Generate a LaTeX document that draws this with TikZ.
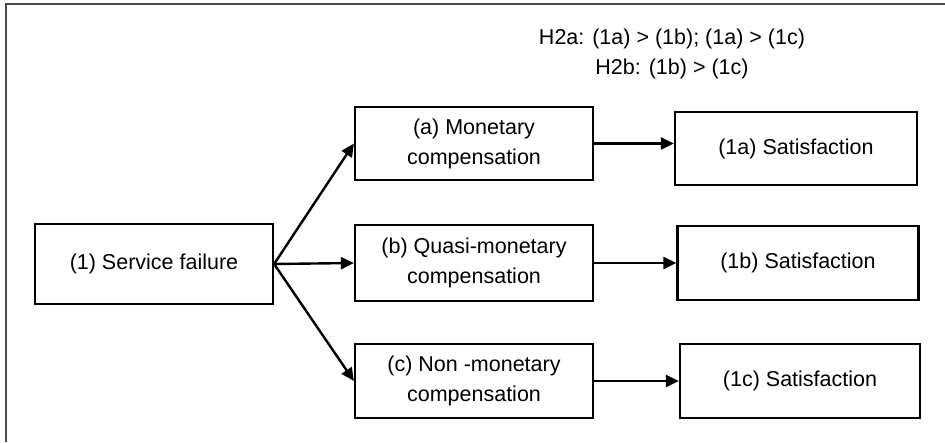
\documentclass[tikz,border=0pt]{standalone}
\usepackage{fontspec}
\setmainfont{Liberation Sans}
\usepackage{tikz}
\usetikzlibrary{arrows.meta}

\tikzset{
  stage/.style={draw, line width=2.2pt, align=center, inner sep=0pt,
    font=\fontsize{21.5}{30}\selectfont},
  link/.style={line width=2.4pt, -{Triangle[length=13pt, width=12pt]}},
}

\begin{document}
\begin{tikzpicture}[x=1pt, y=-1pt]

  \useasboundingbox (0,0) rectangle (945,442);
  \draw [line width=2.4pt, black!70] (6,442) -- (6,4) -- (945,4);

  % hypotheses
  \draw (672,54) node [name=hyp, align=center, font=\fontsize{21.5}{30}\selectfont]
    {H2a: (1a) > (1b); (1a) > (1c)\\H2b: (1b) > (1c)};

  % failure and the three kinds of compensation
  \draw (154,264) node [name=fail, stage, minimum width=238pt, minimum height=80pt]
    {(1) Service failure};
  \draw (474,143.5) node [name=comp a, stage, minimum width=238pt, minimum height=73pt]
    {(a) Monetary\\compensation};
  \draw (474,263) node [name=comp b, stage, minimum width=238pt, minimum height=76pt]
    {(b) Quasi-monetary\\compensation};
  \draw (474,381) node [name=comp c, stage, minimum width=238pt, minimum height=74pt]
    {(c) Non -monetary\\compensation};

  % satisfaction outcomes
  \draw (796,148.5) node [name=sat a, stage, minimum width=242pt, minimum height=73pt]
    {(1a) Satisfaction};
  \draw (798,263) node [name=sat b, stage, minimum width=241pt, minimum height=74pt]
    {(1b) Satisfaction};
  \draw (800,381) node [name=sat c, stage, minimum width=240pt, minimum height=74pt]
    {(1c) Satisfaction};

  \draw [link] (fail.east) -- (comp a.west);
  \draw [link] (fail.east) -- (comp b.west);
  \draw [link] (fail.east) -- (comp c.west);

  \draw [link] (comp a.east) -- (comp a.east -| sat a.west);
  \draw [link] (comp b.east) -- (comp b.east -| sat b.west);
  \draw [link] (comp c.east) -- (comp c.east -| sat c.west);

\end{tikzpicture}
\end{document}
